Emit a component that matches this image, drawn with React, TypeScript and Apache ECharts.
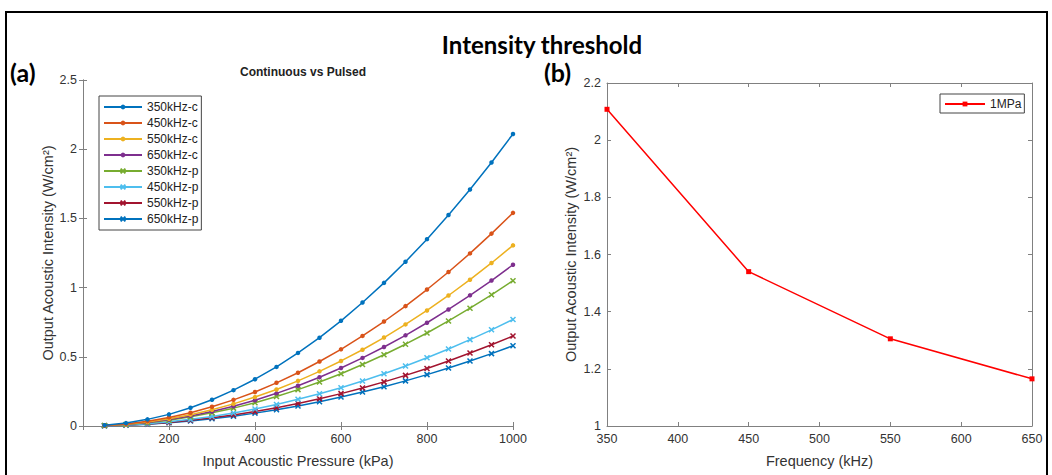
import React, { useEffect, useRef } from "react";
import * as echarts from "echarts";

const pressures = [50, 100, 150, 200, 250, 300, 350, 400, 450, 500, 550, 600, 650, 700, 750, 800, 850, 900, 950, 1000];

const c350 = [0.005, 0.021, 0.048, 0.084, 0.132, 0.190, 0.259, 0.338, 0.427, 0.528, 0.638, 0.760, 0.892, 1.034, 1.187, 1.350, 1.525, 1.709, 1.904, 2.110];
const c450 = [0.004, 0.015, 0.035, 0.062, 0.096, 0.139, 0.189, 0.246, 0.312, 0.385, 0.466, 0.554, 0.651, 0.755, 0.866, 0.986, 1.113, 1.247, 1.390, 1.540];
const c550 = [0.003, 0.013, 0.029, 0.052, 0.082, 0.117, 0.160, 0.209, 0.264, 0.326, 0.395, 0.470, 0.551, 0.639, 0.734, 0.835, 0.943, 1.057, 1.178, 1.305];
const c650 = [0.003, 0.012, 0.026, 0.047, 0.073, 0.105, 0.143, 0.186, 0.236, 0.291, 0.352, 0.419, 0.492, 0.571, 0.655, 0.746, 0.842, 0.944, 1.051, 1.165];
const p350 = [0.003, 0.011, 0.024, 0.042, 0.066, 0.095, 0.129, 0.168, 0.213, 0.263, 0.318, 0.378, 0.444, 0.515, 0.591, 0.672, 0.759, 0.851, 0.948, 1.050];
const p450 = [0.002, 0.008, 0.017, 0.031, 0.048, 0.069, 0.094, 0.123, 0.156, 0.193, 0.233, 0.277, 0.325, 0.377, 0.433, 0.493, 0.556, 0.624, 0.695, 0.770];
const p550 = [0.002, 0.007, 0.015, 0.026, 0.041, 0.059, 0.080, 0.104, 0.132, 0.163, 0.197, 0.234, 0.275, 0.319, 0.366, 0.416, 0.470, 0.527, 0.587, 0.650];
const p650 = [0.001, 0.006, 0.013, 0.023, 0.036, 0.052, 0.071, 0.093, 0.117, 0.145, 0.175, 0.209, 0.245, 0.284, 0.326, 0.371, 0.419, 0.470, 0.523, 0.580];

const leftNames = ["350kHz-c", "450kHz-c", "550kHz-c", "650kHz-c", "350kHz-p", "450kHz-p", "550kHz-p", "650kHz-p"];
const leftValues = [c350, c450, c550, c650, p350, p450, p550, p650];
const leftColors = ["#0072BD", "#D95319", "#EDB120", "#7E2F8E", "#77AC30", "#4DBEEE", "#A2142F", "#0072BD"];

const frequencies = [350, 450, 550, 650];
const intensity1MPa = [2.108, 1.54, 1.305, 1.165];

const FONT = "Liberation Sans, Arial, sans-serif";
const AXIS = "#808080";
const TXT = "#333333";
const X_MARK = "path://M0,0L10,10M0,10L10,0";

export default function App() {
  const ref = useRef<HTMLDivElement>(null);
  useEffect(() => {
    document.body.style.margin = "0";
    const chart = echarts.init(ref.current!, null, { renderer: "svg" });

    const axisCommon = {
      axisLine: { show: true, lineStyle: { color: AXIS, width: 1 } },
      axisTick: { show: true, inside: true, length: 4, lineStyle: { color: AXIS } },
      splitLine: { show: false },
      axisLabel: { color: TXT, fontSize: 12.5, fontFamily: FONT, margin: 6 },
      nameTextStyle: { color: TXT, fontSize: 14.5, fontFamily: FONT },
    };
    const mirror = (extra: any) => ({
      ...axisCommon,
      ...extra,
      axisLabel: { show: false },
      name: "",
    });

    const leftSeries = leftNames.map((n, i) => {
      const isP = i >= 4;
      return {
        name: n,
        type: "line",
        xAxisIndex: 0,
        yAxisIndex: 0,
        data: pressures.map((p, j) => [p, leftValues[i][j]]),
        symbol: isP ? X_MARK : "circle",
        symbolSize: isP ? 5 : 4.5,
        showAllSymbol: true,
        lineStyle: { color: leftColors[i], width: 1.5 },
        itemStyle: { color: leftColors[i], borderColor: leftColors[i], borderWidth: isP ? 1.5 : 0 },
        z: 10 - i,
      };
    });

    const option: any = {
      animation: false,
      backgroundColor: "#ffffff",
      title: [
        { text: "Intensity threshold", left: 537, top: 27, textAlign: "center",
          textStyle: { fontFamily: "Lato, Open Sans, sans-serif", fontWeight: 700, fontSize: 24, color: "#000" } },
        { text: "Continuous vs Pulsed", left: 298, top: 61, textAlign: "center",
          textStyle: { fontFamily: FONT, fontWeight: 700, fontSize: 12, color: "#222" } },
      ],
      graphic: [
        { type: "rect", shape: { x: 6, y: 12, width: 1041, height: 475 }, style: { fill: "none", stroke: "#000", lineWidth: 2 }, silent: true },
        { type: "text", x: 10, y: 59, style: { text: "(a)", font: "700 25px Lato, Open Sans, sans-serif", fill: "#000" } },
        { type: "text", x: 544, y: 59, style: { text: "(b)", font: "700 25px Lato, Open Sans, sans-serif", fill: "#000" } },
      ],
      grid: [
        { left: 83, top: 80, width: 430, height: 346 },
        { left: 607, top: 83, width: 425, height: 343 },
      ],
      xAxis: [
        { ...axisCommon, type: "value", gridIndex: 0, min: 0, max: 1000, interval: 200,
          axisLabel: { ...axisCommon.axisLabel, formatter: (v: number) => (v === 0 ? "" : String(v)) },
          name: "Input Acoustic Pressure (kPa)", nameLocation: "middle", nameGap: 27 },
        mirror({ type: "value", gridIndex: 0, min: 0, max: 1000, interval: 200, position: "top" }),
        { ...axisCommon, type: "value", gridIndex: 1, min: 350, max: 650, interval: 50,
          name: "Frequency (kHz)", nameLocation: "middle", nameGap: 27 },
        mirror({ type: "value", gridIndex: 1, min: 350, max: 650, interval: 50, position: "top" }),
      ],
      yAxis: [
        { ...axisCommon, type: "value", gridIndex: 0, min: 0, max: 2.5, interval: 0.5,
          name: "Output Acoustic Intensity (W/cm²)", nameLocation: "middle", nameGap: 28 },
        mirror({ type: "value", gridIndex: 0, min: 0, max: 2.5, interval: 0.5, position: "right" }),
        { ...axisCommon, type: "value", gridIndex: 1, min: 1, max: 2.2, interval: 0.2,
          axisLabel: { ...axisCommon.axisLabel, formatter: (v: number) => String(Math.round(v * 10) / 10) },
          name: "Output Acoustic Intensity (W/cm²)", nameLocation: "middle", nameGap: 29 },
        mirror({ type: "value", gridIndex: 1, min: 1, max: 2.2, interval: 0.2, position: "right" }),
      ],
      legend: [
        { data: leftNames, orient: "vertical", left: 99, top: 96, itemWidth: 38, itemHeight: 6, itemGap: 4,
          padding: [5, 3, 5, 4], borderColor: "#444", borderWidth: 1, backgroundColor: "#fff",
          textStyle: { fontFamily: FONT, fontSize: 12, color: "#222", lineHeight: 12 } },
        { data: ["1MPa"], orient: "vertical", left: 940, top: 94, itemWidth: 40, itemHeight: 6,
          padding: [4, 3, 3, 4], borderColor: "#444", borderWidth: 1, backgroundColor: "#fff",
          textStyle: { fontFamily: FONT, fontSize: 12, color: "#222", lineHeight: 12 } },
      ],
      series: [
        ...leftSeries,
        {
          name: "1MPa", type: "line", xAxisIndex: 2, yAxisIndex: 2,
          data: frequencies.map((f, j) => [f, intensity1MPa[j]]),
          symbol: "rect", symbolSize: 5,
          lineStyle: { color: "#ff0000", width: 1.5 },
          itemStyle: { color: "#ff0000" },
        },
      ],
    };
    chart.setOption(option);
    return () => chart.dispose();
  }, []);
  return <div ref={ref} style={{ width: 1052, height: 475 }} />;
}
